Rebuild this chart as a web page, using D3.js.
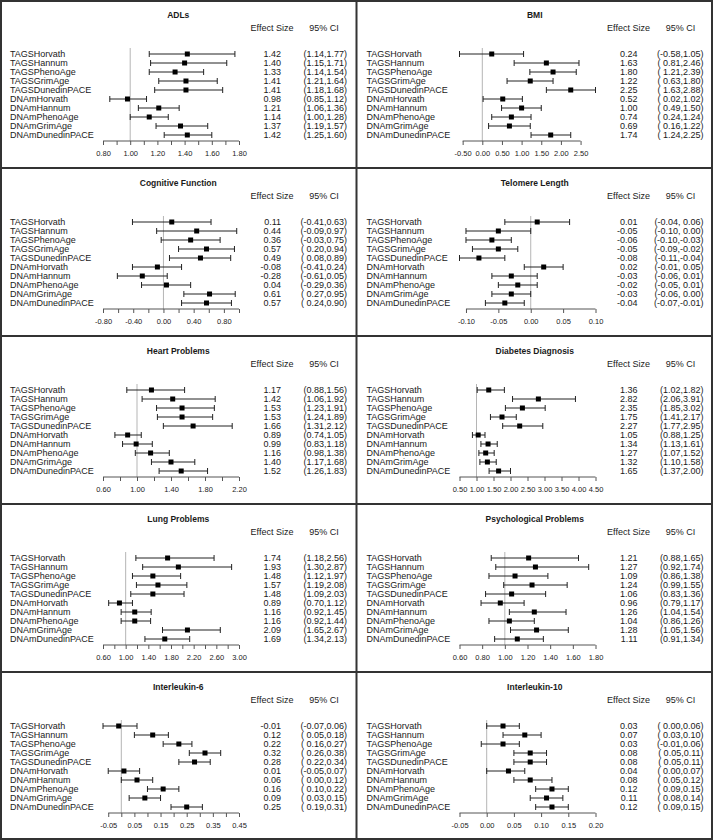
<!DOCTYPE html>
<html>
<head>
<meta charset="utf-8">
<script src="https://cdn.jsdelivr.net/npm/d3@7"></script>
<style>
body { margin: 0; background: #fff; }
text { font-family: "Liberation Sans", Arial, Helvetica, sans-serif; fill: #1a1a1a; }
</style>
</head>
<body>
<svg id="svg"></svg>
<script>
var width = 713, height = 840;
var svg = d3.select("#svg")
	.attr("width", width)
	.attr("height", height);

var models = ["TAGSHorvath", "TAGSHannum", "TAGSPhenoAge", "TAGSGrimAge", "TAGSDunedinPACE",
	"DNAmHorvath", "DNAmHannum", "DNAmPhenoAge", "DNAmGrimAge", "DNAmDunedinPACE"];

var titles = ["ADLs", "BMI", "Cognitive Function", "Telomere Length", "Heart Problems",
	"Diabetes Diagnosis", "Lung Problems", "Psychological Problems", "Interleukin-6", "Interleukin-10"];

// null line for each outcome
var refs = [1, 0, 0, 0, 1, 1, 1, 1, 0, 0];

var adlEst = [1.42, 1.40, 1.33, 1.41, 1.41, 0.98, 1.21, 1.14, 1.37, 1.42];
var adlLo  = [1.14, 1.15, 1.14, 1.21, 1.18, 0.85, 1.06, 1.00, 1.19, 1.25];
var adlHi  = [1.77, 1.71, 1.54, 1.64, 1.68, 1.12, 1.36, 1.28, 1.57, 1.60];

var bmiEst = [0.24, 1.63, 1.80, 1.22, 2.25, 0.52, 1.00, 0.74, 0.69, 1.74];
var bmiLo  = [-0.58, 0.81, 1.21, 0.63, 1.63, 0.02, 0.49, 0.24, 0.16, 1.24];
var bmiHi  = [1.05, 2.46, 2.39, 1.80, 2.88, 1.02, 1.50, 1.24, 1.22, 2.25];

var cogEst = [0.11, 0.44, 0.36, 0.57, 0.49, -0.08, -0.28, 0.04, 0.61, 0.57];
var cogLo  = [-0.41, -0.09, -0.03, 0.20, 0.08, -0.41, -0.61, -0.29, 0.27, 0.24];
var cogHi  = [0.63, 0.97, 0.75, 0.94, 0.89, 0.24, 0.05, 0.36, 0.95, 0.90];

var telEst = [0.01, -0.05, -0.06, -0.05, -0.08, 0.02, -0.03, -0.02, -0.03, -0.04];
var telLo  = [-0.04, -0.10, -0.10, -0.09, -0.11, -0.01, -0.06, -0.05, -0.06, -0.07];
var telHi  = [0.06, 0.00, -0.03, -0.02, -0.04, 0.05, 0.01, 0.01, 0.00, -0.01];

var hrtEst = [1.17, 1.42, 1.53, 1.53, 1.66, 0.89, 0.99, 1.16, 1.40, 1.52];
var hrtLo  = [0.88, 1.06, 1.23, 1.24, 1.31, 0.74, 0.83, 0.98, 1.17, 1.26];
var hrtHi  = [1.56, 1.92, 1.91, 1.89, 2.12, 1.05, 1.18, 1.38, 1.68, 1.83];

var diaEst = [1.36, 2.82, 2.35, 1.75, 2.27, 1.05, 1.34, 1.27, 1.32, 1.65];
var diaLo  = [1.02, 2.06, 1.85, 1.41, 1.77, 0.88, 1.13, 1.07, 1.10, 1.37];
var diaHi  = [1.82, 3.91, 3.02, 2.17, 2.95, 1.25, 1.61, 1.52, 1.58, 2.00];

var lngEst = [1.74, 1.93, 1.48, 1.57, 1.48, 0.89, 1.16, 1.16, 2.09, 1.69];
var lngLo  = [1.18, 1.30, 1.12, 1.19, 1.09, 0.70, 0.92, 0.92, 1.65, 1.34];
var lngHi  = [2.56, 2.87, 1.97, 2.08, 2.03, 1.12, 1.45, 1.44, 2.67, 2.13];

var psyEst = [1.21, 1.27, 1.09, 1.24, 1.06, 0.96, 1.26, 1.04, 1.28, 1.11];
var psyLo  = [0.88, 0.92, 0.86, 0.99, 0.83, 0.79, 1.04, 0.86, 1.05, 0.91];
var psyHi  = [1.65, 1.74, 1.38, 1.55, 1.36, 1.17, 1.54, 1.26, 1.56, 1.34];

var il6Est = [-0.01, 0.12, 0.22, 0.32, 0.28, 0.01, 0.06, 0.16, 0.09, 0.25];
var il6Lo  = [-0.07, 0.05, 0.16, 0.26, 0.22, -0.05, 0.00, 0.10, 0.03, 0.19];
var il6Hi  = [0.06, 0.18, 0.27, 0.38, 0.34, 0.07, 0.12, 0.22, 0.15, 0.31];

var il10Est = [0.03, 0.07, 0.03, 0.08, 0.08, 0.04, 0.08, 0.12, 0.11, 0.12];
var il10Lo  = [0.00, 0.03, -0.01, 0.05, 0.05, 0.00, 0.05, 0.09, 0.08, 0.09];
var il10Hi  = [0.06, 0.10, 0.06, 0.11, 0.11, 0.07, 0.12, 0.15, 0.14, 0.15];

// axis ticks and the ticks that carry a label
var adlTicks = [0.8, 0.9, 1.0, 1.1, 1.2, 1.3, 1.4, 1.5, 1.6, 1.7, 1.8];
var adlLabels = [0.8, 1.0, 1.2, 1.4, 1.6, 1.8];
var bmiTicks = [-0.5, 0, 0.5, 1.0, 1.5, 2.0, 2.5];
var bmiLabels = [-0.5, 0, 0.5, 1.0, 1.5, 2.0, 2.5];
var cogTicks = [-0.8, -0.6, -0.4, -0.2, 0, 0.2, 0.4, 0.6, 0.8, 1.0];
var cogLabels = [-0.8, -0.4, 0, 0.4, 0.8];
var telTicks = [-0.10, -0.05, 0, 0.05, 0.10];
var telLabels = [-0.10, -0.05, 0, 0.05, 0.10];
var hrtTicks = [0.6, 0.8, 1.0, 1.2, 1.4, 1.6, 1.8, 2.0, 2.2];
var hrtLabels = [0.6, 1.0, 1.4, 1.8, 2.2];
var diaTicks = [0.5, 1.0, 1.5, 2.0, 2.5, 3.0, 3.5, 4.0, 4.5];
var diaLabels = [0.5, 1.0, 1.5, 2.0, 2.5, 3.0, 3.5, 4.0, 4.5];
var lngTicks = [0.6, 0.8, 1.0, 1.2, 1.4, 1.6, 1.8, 2.0, 2.2, 2.4, 2.6, 2.8, 3.0];
var lngLabels = [0.6, 1.0, 1.4, 1.8, 2.2, 2.6, 3.0];
var psyTicks = [0.6, 0.8, 1.0, 1.2, 1.4, 1.6, 1.8];
var psyLabels = [0.6, 0.8, 1.0, 1.2, 1.4, 1.6, 1.8];
var il6Ticks = [-0.05, 0, 0.05, 0.10, 0.15, 0.20, 0.25, 0.30, 0.35, 0.40, 0.45];
var il6Labels = [-0.05, 0.05, 0.15, 0.25, 0.35, 0.45];
var il10Ticks = [-0.05, 0, 0.05, 0.10, 0.15, 0.20];
var il10Labels = [-0.05, 0, 0.05, 0.10, 0.15, 0.20];

var panels = [
	{est: adlEst, lo: adlLo, hi: adlHi, ticks: adlTicks, labels: adlLabels},
	{est: bmiEst, lo: bmiLo, hi: bmiHi, ticks: bmiTicks, labels: bmiLabels},
	{est: cogEst, lo: cogLo, hi: cogHi, ticks: cogTicks, labels: cogLabels},
	{est: telEst, lo: telLo, hi: telHi, ticks: telTicks, labels: telLabels},
	{est: hrtEst, lo: hrtLo, hi: hrtHi, ticks: hrtTicks, labels: hrtLabels},
	{est: diaEst, lo: diaLo, hi: diaHi, ticks: diaTicks, labels: diaLabels},
	{est: lngEst, lo: lngLo, hi: lngHi, ticks: lngTicks, labels: lngLabels},
	{est: psyEst, lo: psyLo, hi: psyHi, ticks: psyTicks, labels: psyLabels},
	{est: il6Est, lo: il6Lo, hi: il6Hi, ticks: il6Ticks, labels: il6Labels},
	{est: il10Est, lo: il10Lo, hi: il10Hi, ticks: il10Ticks, labels: il10Labels}
];
panels.forEach(function(p, i) { p.title = titles[i]; p.ref = refs[i]; });

var panelW = width / 2, panelH = height / 5;
// plain hyphen for negatives, as in the original
var fmt = d3.formatLocale({decimal: ".", thousands: ",", grouping: [3], currency: ["$", ""], minus: "-"})
	.format(".2f");

// pad a column of numbers to a common width, like R's format()
function padCol(vals)
{
	var s = vals.map(function(v) { return fmt(v); });
	var n = d3.max(s, function(t) { return t.length; });
	return s.map(function(t) { return t.padStart(n, " "); });
}

panels.forEach(function(p, i)
{
	var g = svg.append("g")
		.attr("transform", "translate(" + ((i % 2) * panelW) + "," + (Math.floor(i / 2) * panelH) + ")");
	plot(g, p);
});

function plot(g, p)
{
	var x = d3.scaleLinear()
		.domain(d3.extent(p.lo.concat(p.hi, p.ticks)))
		.range([103, 239]);

	var y = d3.scalePoint()
		.domain(models)
		.range([54, 135]);

	g.append("text")
		.attr("x", panelW / 2)
		.attr("y", 18)
		.attr("text-anchor", "middle")
		.style("font-size", "8.5px")
		.style("font-weight", "bold")
		.text(p.title);

	g.append("text")
		.attr("x", 272).attr("y", 31)
		.attr("text-anchor", "middle")
		.style("font-size", "9px")
		.text("Effect Size");
	g.append("text")
		.attr("x", 324).attr("y", 31)
		.attr("text-anchor", "middle")
		.style("font-size", "9px")
		.text("95% CI");

	// null line
	g.append("line")
		.attr("x1", x(p.ref)).attr("x2", x(p.ref))
		.attr("y1", 48).attr("y2", 141)
		.attr("stroke", "#b5b5b5")
		.attr("stroke-width", 1);

	var loS = padCol(p.lo), hiS = padCol(p.hi);

	var row = g.selectAll(".row")
		.data(models)
		.enter()
		.append("g")
		.attr("class", "row");

	row.append("text")
		.attr("x", 10)
		.attr("y", function(d) { return y(d) + 3.2; })
		.style("font-size", "9px")
		.text(function(d) { return d; });

	row.append("line")
		.attr("x1", function(d, j) { return x(p.lo[j]); })
		.attr("x2", function(d, j) { return x(p.hi[j]); })
		.attr("y1", function(d) { return y(d); })
		.attr("y2", function(d) { return y(d); })
		.attr("stroke", "#222")
		.attr("stroke-width", 1);

	[p.lo, p.hi].forEach(function(end)
	{
		row.append("line")
			.attr("x1", function(d, j) { return x(end[j]); })
			.attr("x2", function(d, j) { return x(end[j]); })
			.attr("y1", function(d) { return y(d) - 3; })
			.attr("y2", function(d) { return y(d) + 3; })
			.attr("stroke", "#222")
			.attr("stroke-width", 1);
	});

	row.append("rect")
		.attr("x", function(d, j) { return x(p.est[j]) - 2.5; })
		.attr("y", function(d) { return y(d) - 2.5; })
		.attr("width", 5)
		.attr("height", 5)
		.attr("fill", "#000");

	row.append("text")
		.attr("x", 281)
		.attr("y", function(d) { return y(d) + 3.2; })
		.attr("text-anchor", "end")
		.style("font-size", "9px")
		.text(function(d, j) { return fmt(p.est[j]); });

	row.append("text")
		.attr("x", 347)
		.attr("y", function(d) { return y(d) + 3.2; })
		.attr("text-anchor", "end")
		.style("font-size", "9px")
		.style("white-space", "pre")
		.text(function(d, j) { return "(" + loS[j] + "," + hiS[j] + ")"; });

	var xAxis = d3.axisBottom(x)
		.tickValues(p.ticks)
		.tickSize(4)
		.tickFormat(function(d) {
			return p.labels.some(function(l) { return Math.abs(l - d) < 1e-9; }) ? fmt(d) : "";
		});

	var ax = g.append("g")
		.attr("transform", "translate(0,141)")
		.call(xAxis);
	ax.select(".domain").remove();
	ax.append("line")
		.attr("x1", x(p.ticks[0]))
		.attr("x2", x(p.ticks[p.ticks.length - 1]))
		.attr("stroke", "#555");
	ax.selectAll(".tick line").attr("stroke", "#555");
	ax.selectAll(".tick text")
		.attr("y", 10)
		.style("font-size", "7.5px")
		.style("font-family", "'Liberation Sans', Arial, sans-serif")
		.attr("fill", "#1a1a1a");
}

// panel frames
var frame = svg.append("g").attr("fill", "none").attr("stroke", "#333").attr("stroke-width", 2);
frame.append("rect").attr("x", 1).attr("y", 1).attr("width", width - 2).attr("height", height - 2);
frame.append("line").attr("x1", panelW).attr("x2", panelW).attr("y1", 0).attr("y2", height);
d3.range(1, 5).forEach(function(k)
{
	frame.append("line").attr("x1", 0).attr("x2", width).attr("y1", k * panelH).attr("y2", k * panelH);
});
</script>
</body>
</html>
